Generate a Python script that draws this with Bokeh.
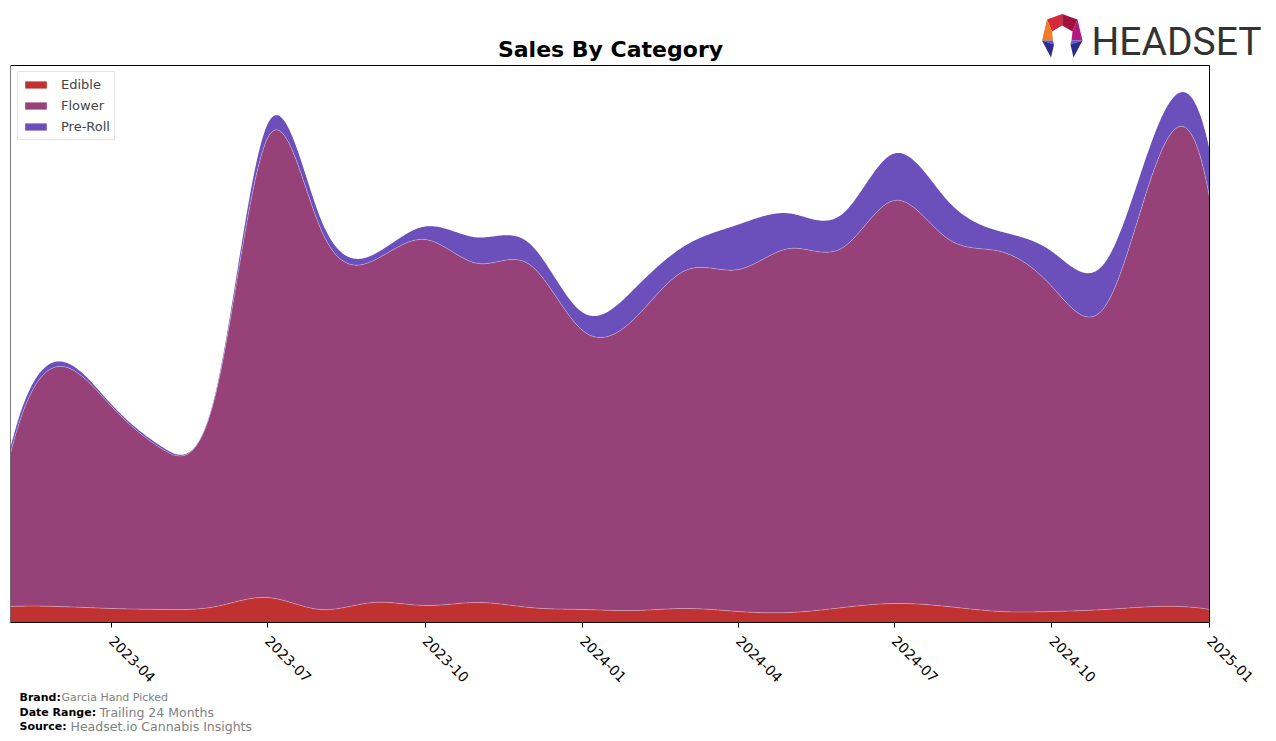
import numpy as np
import pandas as pd
from bokeh.plotting import figure
from bokeh.layouts import column
from bokeh.models import (ColumnDataSource, Range1d, FixedTicker, DatetimeTickFormatter,
                          Legend, LegendItem, Label, PolyAnnotation, BoxAnnotation)
from bokeh.core.properties import value
from bokeh.embed import file_html
from bokeh.resources import INLINE

# ---------------- data (monthly, arbitrary sales units) ----------------
months = ["2023-02", "2023-03", "2023-04", "2023-05", "2023-06", "2023-07",
          "2023-08", "2023-09", "2023-10", "2023-11", "2023-12", "2024-01",
          "2024-02", "2024-03", "2024-04", "2024-05", "2024-06", "2024-07",
          "2024-08", "2024-09", "2024-10", "2024-11", "2024-12", "2025-01"]
edible = [16, 16, 14, 13, 16, 25, 13, 20, 17, 20, 15, 13,
          12, 14, 11, 10, 15, 19, 16, 11, 11, 13, 16, 13]
flower = [153, 240, 202, 160, 214, 459, 381, 342, 366, 339, 343, 279,
          293, 338, 342, 364, 360, 403, 368, 360, 325, 303, 443, 412]
pre_roll = [6, 5, 2, 2, 2, 14, 10, 6, 13, 26, 21, 18,
            30, 25, 45, 35, 34, 47, 38, 20, 35, 44, 34, 48]
tick_labels = ["2023-04", "2023-07", "2023-10", "2024-01",
               "2024-04", "2024-07", "2024-10", "2025-01"]
categories = ["Edible", "Flower", "Pre-Roll"]
colors = ["#c03232", "#964178", "#6b4fbb"]

title = "Sales By Category"
brand = "Garcia Hand Picked"
date_range = "Trailing 24 Months"
source_txt = "Headset.io Cannabis Insights"


def spline(xk, yk, xq):
    xk = np.asarray(xk, float)
    yk = np.asarray(yk, float)
    n = len(xk)
    h = np.diff(xk)
    A = np.zeros((n, n))
    b = np.zeros(n)
    for i in range(1, n - 1):
        A[i, i - 1] = h[i - 1]
        A[i, i] = 2 * (h[i - 1] + h[i])
        A[i, i + 1] = h[i]
        b[i] = 6 * ((yk[i + 1] - yk[i]) / h[i] - (yk[i] - yk[i - 1]) / h[i - 1])
    A[0, 0] = h[1]; A[0, 1] = -(h[0] + h[1]); A[0, 2] = h[0]
    A[-1, -3] = h[-1]; A[-1, -2] = -(h[-2] + h[-1]); A[-1, -1] = h[-2]
    M = np.linalg.solve(A, b)
    idx = np.clip(np.searchsorted(xk, xq, side="right") - 1, 0, n - 2)
    x0 = xk[idx]; x1 = xk[idx + 1]; hh = x1 - x0
    t1 = x1 - xq; t0 = xq - x0
    return (M[idx] * t1 ** 3 / (6 * hh) + M[idx + 1] * t0 ** 3 / (6 * hh)
            + (yk[idx] / hh - M[idx] * hh / 6) * t1
            + (yk[idx + 1] / hh - M[idx + 1] * hh / 6) * t0)


def to_ms(s):
    return float((pd.Timestamp(s) - pd.Timestamp("1970-01-01")) / pd.Timedelta(milliseconds=1))


ms = np.array([to_ms(m + "-01") for m in months])
xq = np.linspace(ms[0], ms[-1], 900)

e_s = np.clip(spline(ms, edible, xq), 0, None)
f_s = np.clip(spline(ms, flower, xq), 0, None)
p_s = np.clip(spline(ms, pre_roll, xq), 0, None)
c1 = e_s
c2 = c1 + f_s
c3 = c2 + p_s
src = ColumnDataSource(dict(x=xq, z=np.zeros_like(xq), c1=c1, c2=c2, c3=c3))

# ---------------- layout geometry (page pixels) ----------------
CH_L, CH_R, CH_T, CH_B = 10, 1209, 65, 622      # chart box
FR_R, FR_T = 1270, 10                            # extended frame (holds title + logo)
chart_h = CH_B - CH_T
y_top = CH_B - FR_T                              # value units == pixels
x_span = ms[-1] - ms[0]
x_end = ms[0] + x_span * (FR_R - CH_L) / (CH_R - CH_L)

p = figure(frame_width=FR_R - CH_L, frame_height=CH_B - FR_T, x_axis_type="datetime",
           x_range=Range1d(ms[0], x_end), y_range=Range1d(0, y_top),
           output_backend="svg", toolbar_location=None,
           min_border_left=CH_L, min_border_right=1276 - FR_R, min_border_top=FR_T,
           min_border_bottom=66)
p.grid.visible = False
p.yaxis.visible = False
p.outline_line_color = None
p.background_fill_color = "white"

r1 = p.varea(x="x", y1="z", y2="c1", source=src, fill_color=colors[0])
r2 = p.varea(x="x", y1="c1", y2="c2", source=src, fill_color=colors[1])
r3 = p.varea(x="x", y1="c2", y2="c3", source=src, fill_color=colors[2])
p.line(x="x", y="c1", source=src, line_color="white", line_alpha=0.3, line_width=1)
p.line(x="x", y="c2", source=src, line_color="white", line_alpha=0.3, line_width=1)

# chart border box
p.add_layout(BoxAnnotation(left=ms[0], right=ms[-1], bottom=0, top=chart_h,
                           fill_color=None, fill_alpha=0, line_color="black",
                           line_width=1, line_alpha=1))

ax = p.xaxis[0]
ax.bounds = (ms[0], ms[-1])
ax.ticker = FixedTicker(ticks=[to_ms(t + "-01") for t in tick_labels])
ax.formatter = DatetimeTickFormatter(days="%Y-%m", months="%Y-%m", years="%Y-%m")
ax.major_label_orientation = -np.pi / 4
ax.major_label_text_font = "DejaVu Sans"
ax.major_label_text_font_size = "14px"
ax.major_label_text_color = "black"
ax.major_tick_out = 5
ax.major_tick_in = 0
ax.minor_tick_line_color = None
ax.axis_line_color = "black"
ax.major_tick_line_color = "black"
ax.major_label_standoff = 11

legend = Legend(items=[LegendItem(label=categories[0], renderers=[r1]),
                       LegendItem(label=categories[1], renderers=[r2]),
                       LegendItem(label=categories[2], renderers=[r3])],
                location=(7, CH_B - 140))
legend.padding = 4
legend.spacing = 4
legend.label_text_font = "DejaVu Sans"
legend.label_text_font_size = "13px"
legend.glyph_width = 27
legend.glyph_height = 9
legend.label_height = 17
legend.label_standoff = 12
legend.border_line_color = "#cccccc"
legend.border_line_width = 1
legend.background_fill_alpha = 0.8
p.add_layout(legend)


def lab(X, Y, text, fs, **kw):
    # Y is the wanted baseline (page px); the label is anchored at its middle
    opts = dict(text_font="DejaVu Sans", text_baseline="middle", text_font_size=f"{fs}px")
    opts.update(kw)
    p.add_layout(Label(x=X - CH_L, y=CH_B - (Y - 0.36 * fs), x_units="screen",
                       y_units="screen", text=text, **opts))


# title
lab(610, 57, title, 22, text_font_style="bold", text_align="center", text_color="black")

# logo
O0 = (1061.7, 13.5); O1 = (1077, 19); O2 = (1082, 40); O3 = (1073, 57)
O4 = (1050.5, 57); O5 = (1041.5, 40); O6 = (1046.5, 19)
I0 = (1061.7, 25); I1 = (1072, 31); I2 = (1070, 44); IR = (1071, 40)
I4 = (1053.5, 44); I5 = (1051.5, 31); IL = (1052.5, 40)
segs = [([O6, O0, I0, I5], "#d42a3a"),
        ([O0, O1, I1, I0], "#a3123f"),
        ([O6, I5, IL, O5], "#f07d22"),
        ([O1, O2, IR, I1], "#b4197d"),
        ([O5, IL, I4], "#5a5ad0"),
        ([O5, I4, O4], "#2c2c8c"),
        ([O2, IR, I2], "#5a5ad0"),
        ([O2, I2, O3], "#2c2c8c")]
for pts, col in segs:
    p.add_layout(PolyAnnotation(xs=[q[0] - CH_L for q in pts], ys=[CH_B - q[1] for q in pts],
                                xs_units="screen", ys_units="screen",
                                fill_color=col, fill_alpha=1.0, line_alpha=0.0))
lab(1091, 56, "HEADSET", 39, text_font="Roboto", text_color="#333333")

# ---------------- footer strip ----------------
foot = figure(frame_width=FR_R - CH_L, frame_height=53, x_range=Range1d(CH_L, FR_R),
              y_range=Range1d(741, 688), output_backend="svg", toolbar_location=None,
              min_border_left=CH_L, min_border_right=1276 - FR_R, min_border_top=0,
              min_border_bottom=0, x_axis_location=None, y_axis_location=None)
foot.grid.visible = False
foot.outline_line_color = None
foot.text(x=[19, 19, 19], y=[696, 711, 725], text=["Brand:", "Date Range:", "Source:"],
          text_font=value("DejaVu Sans"), text_font_style="bold", text_font_size="11px",
          text_baseline="alphabetic", text_color="black")
foot.text(x=[61], y=[696], text=[brand], text_font=value("DejaVu Sans"),
          text_font_size="11px", text_baseline="alphabetic", text_color="#808080")
foot.text(x=[99, 70], y=[711, 725], text=[date_range, source_txt],
          text_font=value("DejaVu Sans"), text_font_size="12.5px",
          text_baseline="alphabetic", text_color="#808080")

layout = column(p, foot, spacing=0)
open("out.html", "w").write(file_html(layout, INLINE))
